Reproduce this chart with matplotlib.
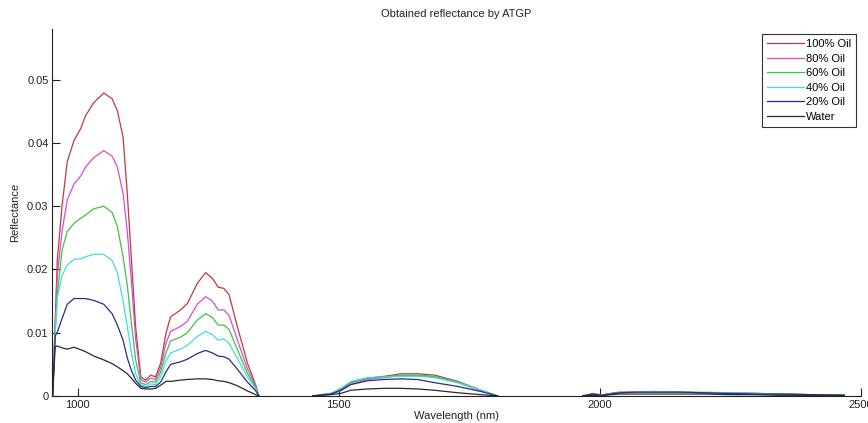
import numpy as np
import matplotlib.pyplot as plt

# wavelength grids for the three plotted bands (water bands masked)
wl_a = [952, 957, 961, 970, 980, 993, 1006, 1015, 1031, 1050, 1066, 1076, 1087, 1095,
        1103, 1111, 1121, 1130, 1140, 1149, 1159, 1169, 1178, 1197, 1210, 1229, 1245,
        1258, 1269, 1280, 1290, 1306, 1325, 1341, 1347]
wl_b = [1450, 1485, 1504, 1523, 1555, 1587, 1619, 1651, 1683, 1728, 1772, 1804]
wl_c = [1967, 1986, 2002, 2021, 2037, 2070, 2104, 2150, 2200, 2250, 2296, 2341, 2404, 2468]

oil100_a = [0, 0.012, 0.0215, 0.030, 0.037, 0.0404, 0.0423, 0.0443, 0.0464, 0.0479, 0.0470,
            0.0451, 0.0409, 0.032, 0.0215, 0.0109, 0.0030, 0.0025, 0.0033, 0.0030, 0.0052,
            0.0099, 0.0125, 0.0136, 0.0146, 0.0178, 0.0195, 0.0186, 0.0172, 0.0170, 0.0160,
            0.0109, 0.0052, 0.0017, 0]
oil80_a = [0, 0.011, 0.019, 0.026, 0.031, 0.0335, 0.0348, 0.0362, 0.0377, 0.0388, 0.0379,
           0.0362, 0.032, 0.026, 0.018, 0.009, 0.0026, 0.0022, 0.0028, 0.0026, 0.0045,
           0.0083, 0.0102, 0.0110, 0.0118, 0.0145, 0.0157, 0.0150, 0.0136, 0.0136, 0.0127,
           0.0088, 0.0043, 0.0015, 0]
oil60_a = [0, 0.010, 0.016, 0.023, 0.026, 0.0273, 0.0281, 0.0286, 0.0296, 0.0300, 0.0290,
           0.0268, 0.0220, 0.0175, 0.0115, 0.0057, 0.0020, 0.0018, 0.0023, 0.0022, 0.0038,
           0.0068, 0.0087, 0.0093, 0.0100, 0.0120, 0.0130, 0.0124, 0.0112, 0.0112, 0.0105,
           0.0073, 0.0036, 0.0013, 0]
oil40_a = [0, 0.010, 0.0155, 0.0190, 0.0207, 0.0216, 0.0217, 0.0220, 0.0224, 0.0224, 0.0214,
           0.0195, 0.0150, 0.0110, 0.0068, 0.0035, 0.0017, 0.0015, 0.0019, 0.0018, 0.0031,
           0.0055, 0.0068, 0.0074, 0.0080, 0.0094, 0.0102, 0.0097, 0.0088, 0.0090, 0.0083,
           0.0059, 0.0030, 0.0011, 0]
oil20_a = [0, 0.0095, 0.0101, 0.0122, 0.0145, 0.0154, 0.0154, 0.0154, 0.0151, 0.0145, 0.0130,
           0.0112, 0.0088, 0.0060, 0.0040, 0.0025, 0.0015, 0.0013, 0.0015, 0.0015, 0.0022,
           0.0038, 0.0050, 0.0054, 0.0058, 0.0067, 0.0072, 0.0068, 0.0063, 0.0062, 0.0058,
           0.0042, 0.0022, 0.0008, 0]
water_a = [0, 0.0078, 0.0079, 0.0076, 0.0074, 0.0077, 0.0073, 0.0070, 0.0063, 0.0057, 0.0051,
           0.0046, 0.0040, 0.0035, 0.0028, 0.0020, 0.0012, 0.0011, 0.0011, 0.0012, 0.0017,
           0.0023, 0.0023, 0.0025, 0.0026, 0.0027, 0.0027, 0.0026, 0.0024, 0.0023, 0.0021,
           0.0016, 0.0008, 0.0002, 0]

oil100_b = [0, 0.0004, 0.0010, 0.0021, 0.0028, 0.0031, 0.0035, 0.0035, 0.0033, 0.0023, 0.0009, 0]
oil80_b = [0, 0.0003, 0.0008, 0.0018, 0.0026, 0.0029, 0.0032, 0.0032, 0.0030, 0.0021, 0.0008, 0]
oil60_b = [0, 0.0004, 0.0011, 0.0022, 0.0028, 0.0030, 0.0033, 0.0033, 0.0031, 0.0022, 0.0009, 0]
oil40_b = [0, 0.0004, 0.0012, 0.0023, 0.0029, 0.0030, 0.0031, 0.0031, 0.0029, 0.0021, 0.0009, 0]
oil20_b = [0, 0.0003, 0.0009, 0.0018, 0.0024, 0.0026, 0.0027, 0.0026, 0.0021, 0.0015, 0.0007, 0]
water_b = [0, 0.0002, 0.0004, 0.0009, 0.0011, 0.0012, 0.0012, 0.0011, 0.0009, 0.0005, 0.0002, 0]

oil100_c = [0, 0.0002, 0.0001, 0.0004, 0.0006, 0.0006, 0.0007, 0.0006, 0.0005, 0.0005, 0.0004, 0.0003, 0.0002, 0.0001]
oil80_c = [0, 0.0004, 0.0002, 0.0003, 0.0005, 0.0006, 0.0006, 0.0006, 0.0005, 0.0005, 0.0004, 0.0003, 0.0002, 0.0001]
oil60_c = [0, 0.0002, 0.0001, 0.0004, 0.0005, 0.0006, 0.0007, 0.0006, 0.0005, 0.0004, 0.0004, 0.0003, 0.0002, 0.0001]
oil40_c = [0, 0.0002, 0.0001, 0.0003, 0.0005, 0.0006, 0.0007, 0.0006, 0.0006, 0.0005, 0.0004, 0.0003, 0.0002, 0.0001]
oil20_c = [0, 0.0003, 0.0001, 0.0003, 0.0005, 0.0006, 0.0006, 0.0006, 0.0005, 0.0004, 0.0003, 0.0003, 0.0002, 0.0001]
water_c = [0, 0.0001, 0.0000, 0.0002, 0.0003, 0.0003, 0.0003, 0.0003, 0.0003, 0.0002, 0.0002, 0.0001, 0.0001, 0.0001]

labels = ['100% Oil', '80% Oil', '60% Oil', '40% Oil', '20% Oil', 'Water']
colors = ['#c0393b', '#d24fd2', '#3fc43f', '#3fdede', '#2b2b8c', '#2a2a2a']

series = [(oil100_a, oil100_b, oil100_c), (oil80_a, oil80_b, oil80_c),
          (oil60_a, oil60_b, oil60_c), (oil40_a, oil40_b, oil40_c),
          (oil20_a, oil20_b, oil20_c), (water_a, water_b, water_c)]

wl = np.concatenate([wl_a, [np.nan], wl_b, [np.nan], wl_c])

plt.rcParams['font.family'] = ['Liberation Sans', 'DejaVu Sans']
fig = plt.figure(figsize=(8.68, 4.23), dpi=100)
ax = fig.add_axes([0.060, 0.064, 0.932, 0.867])

for (a, b, c), lab, col in zip(series, labels, colors):
    y = np.concatenate([a, [np.nan], b, [np.nan], c])
    ax.plot(wl, y, color=col, lw=0.9, label=lab)

ax.set_xlim(951, 2500)
ax.set_ylim(0, 0.058)
ax.set_xticks([1000, 1500, 2000, 2500])
ax.set_yticks([0, 0.01, 0.02, 0.03, 0.04, 0.05])
ax.set_yticklabels(['0', '0.01', '0.02', '0.03', '0.04', '0.05'])
ax.tick_params(direction='in', length=6, width=0.8, labelsize=8, colors='#222222')
ax.tick_params(axis='y', pad=2.5)
ax.tick_params(axis='x', pad=3)
ax.spines['top'].set_visible(False)
ax.spines['right'].set_visible(False)
for s in ['left', 'bottom']:
    ax.spines[s].set_linewidth(0.8)
    ax.spines[s].set_color('#222222')

ax.set_title('Obtained reflectance by ATGP', fontsize=8, color='#222222', pad=9)
ax.set_xlabel('Wavelength (nm)', fontsize=8, color='#222222', labelpad=1)
ax.set_ylabel('Reflectance', fontsize=8, color='#222222', labelpad=5)

leg = ax.legend(loc='upper right', bbox_to_anchor=(0.9938, 0.986), borderaxespad=0,
                fontsize=8, fancybox=False, framealpha=1, edgecolor='#333333',
                handlelength=3.3, handletextpad=0.2, labelspacing=0.4, borderpad=0.45)
leg.get_frame().set_linewidth(0.8)

fig.savefig('out.png', dpi=100)
